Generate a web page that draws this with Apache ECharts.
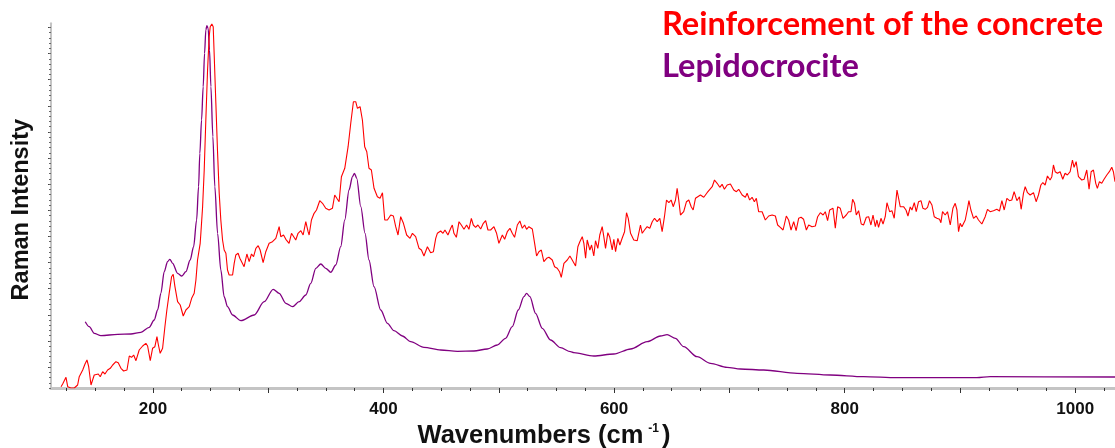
<!DOCTYPE html>
<html>
<head>
<meta charset="utf-8">
<script src="https://cdn.jsdelivr.net/npm/echarts@6/dist/echarts.min.js"></script>
<style>
html,body{margin:0;padding:0;background:#fff;}
#c{width:1115px;height:448px;}
</style>
</head>
<body>
<div id="c"></div>
<script>
// ---- data (wavenumber in cm-1, Raman intensity in arbitrary units) ----
const seriesNames = ['Reinforcement of the concrete', 'Lepidocrocite'];

const lepidoWn = [141.3,144.8,149.1,154.9,169.4,180.9,189.6,196.8,201.1,204.1,206.9,209.8,212.7,214.7,217.1,221.4,225.1,228.6,232.3,235.3,237.9,239.6,240.7,242.2,243.6,244.8,245.9,246.8,247.9,249.1,250.3,252.0,253.7,256.1,258.9,261.8,264.7,269.1,276.3,287.8,296.5,304.3,309.5,315.3,321.1,326.8,332.6,336.9,341.3,345.6,349.9,354.3,358.6,362.9,366.4,370.1,373.1,374.8,376.8,380.3,384.0,387.4,391.8,397.6,403.4,409.1,416.4,423.6,435.1,449.6,464.1,478.4,490.0,498.7,505.9,511.7,516.9,521.8,524.1,527.0,531.9,537.7,544.9,553.6,562.2,565.1,582.4,599.8,614.3,628.7,640.2,646.0,653.2,660.4,672.0,683.6,698.0,709.6,729.8,758.7,787.6,816.4,845.4,865.6,914.7,926.2,1034.5];
const lepidoI = [66.3,61.3,54.7,52.3,53.7,54,55.7,60.7,68,78,94.7,116.3,126.3,128.7,124.7,114.7,112,116.3,128,141.3,168,201.3,234.7,268,301.3,334.7,358,362.3,359.7,338,301.3,251.3,201.3,154.7,118,91.3,81.3,73,67.3,73,86.3,98.7,94.7,84.7,81.3,86.3,93,104.7,119.7,124,119.7,115.7,123,141.3,168,198,211.3,214.7,209.7,181.3,154.7,128,101.3,78,64.7,57.3,52,46.3,40.7,38,36.7,37,39,43,49.7,61.3,78,91.3,94.7,91.3,74.7,59.7,48,40.3,36.3,35.3,32,34,39,46.3,52,53.3,49.7,41.3,31.3,24.7,20.7,19,18,14.7,13,11.3,10.3,10.3,10.3,11.3,11];

const concreteWn = [120.3,121.7,124.6,126.1,128.9,130.4,131.8,134.7,136.1,139.1,141.1,142.8,144.3,146.3,147.7,149.1,150.6,152.6,154.3,156.4,158.4,160.7,163.0,165.1,167.9,169.9,172.3,174.6,177.5,179.5,181.5,183.3,185.3,188.1,191.1,193.9,195.4,197.7,199.7,201.7,203.5,204.6,206.3,208.4,210.4,212.1,214.1,216.2,217.6,219.1,221.4,223.7,226.3,228.6,230.1,231.5,233.6,235.8,237.3,238.7,241.0,241.6,243.1,244.5,245.9,247.4,248.8,249.7,251.1,252.3,253.1,254.6,256.1,257.5,258.9,260.4,261.8,263.3,264.7,266.1,269.1,270.5,271.9,273.9,275.4,276.9,279.1,281.5,283.5,285.5,287.3,289.3,291.3,293.0,295.6,297.9,300.8,303.7,306.6,309.5,310.9,313.3,315.3,318.1,320.2,321.6,323.9,325.9,328.3,330.3,332.6,334.6,335.5,337.5,339.8,341.9,344.7,347.1,349.9,352.8,355.7,357.7,359.5,361.5,363.5,366.4,369.3,371.6,373.9,375.9,377.4,379.7,381.7,383.7,385.5,387.4,389.5,391.8,394.7,397.0,399.1,401.1,403.4,406.3,408.6,410.6,412.6,414.9,417.3,420.1,423.0,425.1,427.9,430.8,432.9,435.1,438.1,440.9,443.3,445.3,446.7,449.6,451.6,453.3,455.9,458.3,459.7,461.1,463.2,465.5,467.5,469.8,472.1,474.1,476.2,477.9,479.9,481.9,484.3,486.6,488.6,490.6,492.9,495.8,498.1,500.1,503.1,505.1,507.4,509.7,511.7,513.7,516.1,518.3,520.4,522.4,524.1,526.1,529.1,531.1,532.8,534.8,536.9,539.1,541.5,543.5,546.4,548.4,550.7,552.7,554.2,556.5,559.4,561.7,563.7,566.6,568.6,570.3,572.4,573.8,575.3,576.7,579.0,580.5,582.4,583.9,585.9,587.6,589.7,591.1,592.6,594.6,596.3,598.4,599.8,601.3,603.3,605.0,607.0,609.1,610.8,612.3,614.3,617.1,620.1,622.9,624.4,626.4,628.7,631.0,633.1,635.1,637.4,639.7,641.7,643.7,645.5,647.5,649.5,651.3,653.3,654.7,656.1,657.6,660.4,662.8,664.8,666.9,668.6,670.6,672.6,674.9,677.8,680.7,682.1,685.1,687.1,689.4,691.7,693.7,695.7,698.1,700.9,703.8,706.1,708.1,711.1,713.9,715.4,717.6,719.7,721.7,723.4,725.4,728.4,731.2,734.1,737.1,739.9,741.9,744.2,746.6,749.4,751.4,753.5,755.8,757.9,760.1,762.2,764.4,766.8,768.8,771.7,774.6,776.6,778.9,781.3,783.2,785.2,787.0,789.9,791.9,793.9,796.2,798.6,801.4,803.4,805.5,806.9,808.6,810.1,812.1,814.4,816.4,818.8,820.8,822.8,824.6,826.6,828.0,829.4,831.5,833.3,835.2,836.7,839.0,841.0,843.0,845.4,848.2,851.1,853.2,854.9,856.9,858.4,860.4,862.1,864.1,866.2,867.9,869.9,871.9,873.6,875.7,877.7,880.0,882.3,883.5,884.9,887.2,889.2,891.6,893.9,895.9,897.4,898.8,900.2,901.7,904.6,906.6,907.8,909.5,911.8,914.1,916.1,919.0,921.9,923.9,926.2,929.1,932.0,934.3,936.4,938.4,940.7,943.0,945.0,947.0,949.4,951.6,953.1,955.1,956.6,958.6,960.9,963.8,966.1,968.1,970.2,971.9,973.9,975.9,978.2,979.7,981.1,982.6,984.6,986.9,989.2,991.2,993.2,995.6,997.6,999.0,1000.8,1002.8,1005.7,1007.7,1010.0,1012.0,1013.8,1015.8,1017.8,1019.2,1021.0,1023.0,1025.0,1027.4,1029.6,1031.7,1033.1,1034.5];
const concreteI = [1.3,4,10.7,1.3,0,2,0,3,11.3,18,24,28,21.3,3,8,13,11.3,14,11.3,16.3,14,18,19.7,23,26.3,25.3,19.7,17,18,32,30.7,33,27.3,38,42,44.7,42,27.3,39.7,41.3,51.3,44,34.7,39.7,61.3,78,94.7,111.3,113.7,101.3,86.3,83,72,78,76.3,81.3,89.7,94.7,108,128,144.7,154.7,181.3,218,268,318,351.3,361.3,364,361.3,334.7,284.7,234.7,194.7,168,148,138,134.7,118,113,113,124.7,133,134.7,129.7,128,121.3,134,126.3,134,131.3,139.7,142.3,138,125.3,136.3,144.7,146.3,149.7,161.3,151.3,153,148.7,144.7,154.7,156.3,148,154.7,157.3,153,166.3,156.3,153,168,174.7,178,187.3,184.7,179.7,178,179.7,193,189.7,186.3,211.3,219.7,241.3,264.7,286.3,286.3,279.7,281.3,268,241.3,236.3,219.7,218,199.7,191.3,189.7,195.3,168,168,173,172,161.3,153,171.3,164.7,153,149.7,154.7,151.3,139.7,138,132,141.3,135.3,136.3,149.7,154.7,157,154.7,158,153,159.7,163,154.7,150.7,166.3,163,158.7,163,158.7,169.7,163,160.7,163,159,164.7,167.3,158,158,161.3,154.7,144.7,153,148.7,156.3,159.7,154.7,150.7,163,167,159.7,163,158.7,161.3,159,144.7,132,136.3,138,126.3,129.7,130.7,128,121.3,119.7,116.3,110.7,124.7,128,132,128,122,141.3,146.3,151.3,144.7,129.7,148,138,143,132,147.3,139.7,153,161.3,151.3,139.7,155.3,150.7,138,148.7,136.3,149.7,143,149.7,156.3,175.3,169.7,154.7,148,147.3,163,154.7,158,161.3,159.7,166.3,169.7,166.3,169.7,156.3,171.3,188,185.3,188,181.3,188,199.7,188,173,176.3,186.3,188,181.3,178,189.7,191.3,193,190.7,195.3,196.3,201.3,208,204.7,200.7,203.7,198.7,203,204,198,196.3,198.7,193,190.7,194.7,188,190.7,186.3,189.7,176.3,176.3,168,172,173,172,163,160.7,158,172,168,158,166.3,157.3,169.7,170.7,168.7,158,163,161.3,162,171.3,175.3,173,176.3,167.3,178,179.7,159.7,181.3,179.7,169.7,173,176.3,176.3,188.7,184.7,173,177.3,164,163,170.7,171.3,163,173,161.3,168,160.7,169.7,164,171.3,185.3,176.3,177.3,169.7,198,181.3,181.3,178,172,181,178,185.3,176.3,186.3,187.3,179.7,178.7,180.7,187.3,183,171.3,169.7,168.7,165.3,176.3,173,176.3,163,179.7,184.7,178,156.3,164.7,161.3,168,179.7,187.3,178,169.7,172,168,164,171.3,178.7,176.3,177.3,178.7,177,187.3,178,189.7,187.3,188,196.3,187.3,191.3,178.7,194.7,201.3,195.3,193,195.3,186.3,193,203,205.3,203,212,208,211.3,223,216.3,214.7,216.3,208.7,214.7,213,216.3,228,220.7,226.3,211.3,208,208.7,218,198.7,216.3,218,204.7,199.7,206.3,204.7,208.7,213,216.3,220.7,216.3,206.3];

// axis ticks / labels
const xLabelValues = [200, 400, 600, 800, 1000];
const xMajorTicks = [200, 300, 400, 500, 600, 700, 800, 900, 1000];
const xMinorTicks = [125,150,175,225,250,275,325,350,375,425,450,475,525,550,575,625,650,675,725,750,775,825,850,875,925,950,975,1025];
const yMajorTicks = [20.9,47.0,73.2,99.3,125.4,151.6,177.7,203.8,229.9,256.1,282.2,308.3,334.5,360.6];
const yMinorTicks = [];
for (let i = 0; i <= 69; i++) yMinorTicks.push(+(i * 5.226).toFixed(2));

const X_MIN = 111.6, X_MAX = 1034.5, Y_MIN = 0, Y_MAX = 364.7;

const zip = (a, b) => a.map((v, i) => [v, b[i]]);

const chart = echarts.init(document.getElementById('c'), null, {renderer: 'canvas'});
const axisFont = 'Liberation Sans, Arial, sans-serif';
chart.setOption({
  animation: false,
  backgroundColor: '#ffffff',
  grid: {left: 51, right: 0, top: 23.3, bottom: 60, containLabel: false, outerBoundsMode: 'none'},
  legend: {
    orient: 'vertical', left: 652, top: 3, itemGap: 9,
    icon: 'none', itemWidth: 0, itemHeight: 0, selectedMode: false,
    textStyle: {fontSize: 32.6, fontWeight: 'bold', fontFamily: 'Lato'},
    data: [
      {name: seriesNames[0], textStyle: {color: '#ff0000'}},
      {name: seriesNames[1], textStyle: {color: '#800080'}}
    ]
  },
  xAxis: [{
    type: 'value', min: X_MIN, max: X_MAX,
    name: 'Wavenumbers (cm{sup|-1})', nameLocation: 'middle', nameGap: 33,
    nameTextStyle: {fontSize: 25.5, fontWeight: 'bold', color: '#111', fontFamily: axisFont, padding: [0, 78, 0, 0],
      rich: {sup: {fontSize: 12, fontWeight: 'bold', color: '#111', fontFamily: axisFont, verticalAlign: 'top', padding: [0, 3, 14, 5]}}},
    axisLine: {lineStyle: {color: '#c4c4c4', width: 3}},
    axisTick: {customValues: xMajorTicks, length: 5, lineStyle: {color: '#333', width: 1}},
    axisLabel: {customValues: xLabelValues, formatter: v => String(v), fontSize: 17, fontWeight: 'bold', color: '#111', fontFamily: axisFont, margin: 13},
    splitLine: {show: false}
  }, {
    type: 'value', min: X_MIN, max: X_MAX, position: 'bottom',
    axisLine: {show: false},
    axisTick: {customValues: xMinorTicks, length: 3, lineStyle: {color: '#333', width: 1}},
    axisLabel: {show: false}, splitLine: {show: false}
  }],
  yAxis: [{
    type: 'value', min: Y_MIN, max: Y_MAX,
    name: 'Raman Intensity', nameLocation: 'middle', nameGap: 17, nameRotate: 90,
    nameTextStyle: {fontSize: 23.5, fontWeight: 'bold', color: '#111', fontFamily: axisFont, padding: [0, 8, 0, 0]},
    axisLine: {show: true, lineStyle: {color: '#c4c4c4', width: 2}},
    axisTick: {customValues: yMajorTicks, length: 3, lineStyle: {color: '#444', width: 1}},
    axisLabel: {show: false}, splitLine: {show: false}
  }, {
    type: 'value', min: Y_MIN, max: Y_MAX, position: 'left',
    axisLine: {show: false},
    axisTick: {customValues: yMinorTicks, length: 2, lineStyle: {color: '#666', width: 1}},
    axisLabel: {show: false}, splitLine: {show: false}
  }],
  series: [{
    name: seriesNames[1], type: 'line', data: zip(lepidoWn, lepidoI),
    showSymbol: false, smooth: 0.3, smoothMonotone: 'x',
    lineStyle: {color: '#800080', width: 1.3}, itemStyle: {color: '#800080'}, z: 2
  }, {
    name: seriesNames[0], type: 'line', data: zip(concreteWn, concreteI),
    showSymbol: false, lineStyle: {color: '#ff0000', width: 1.1}, itemStyle: {color: '#ff0000'}, z: 3
  }]
});
</script>
</body>
</html>
